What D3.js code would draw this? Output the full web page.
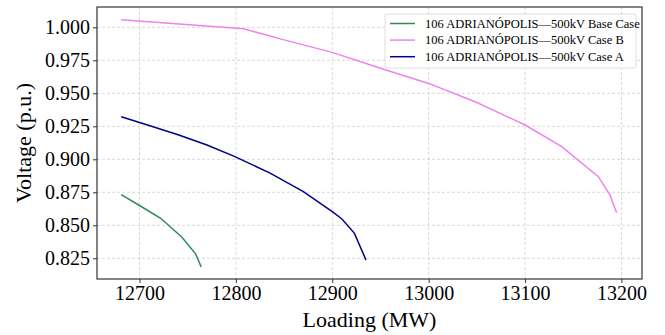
<!DOCTYPE html>
<html>
<head>
<meta charset="utf-8">
<script src="https://cdn.jsdelivr.net/npm/d3@7"></script>
<style>
  body { margin: 0; background: #fff; }
</style>
</head>
<body>
<div id="chart"></div>
<script>
// series: [loading MW, voltage p.u.]
var baseCase = [[12681, 0.8733], [12700, 0.8650], [12722, 0.8553], [12744, 0.8409], [12758, 0.8286], [12764, 0.8184]];
var caseB = [[12681, 1.0058], [12808, 0.9989], [12850, 0.9905], [12900, 0.9810], [12950, 0.9690], [13000, 0.9575],
             [13050, 0.9430], [13100, 0.9260], [13138, 0.9096], [13176, 0.8868], [13188, 0.8730], [13195, 0.8595]];
var caseA = [[12681, 0.9323], [12710, 0.9256], [12740, 0.9186], [12770, 0.9108], [12799, 0.9020], [12835, 0.8897],
             [12870, 0.8755], [12900, 0.8603], [12910, 0.8548], [12923, 0.8439], [12935, 0.8236]];

var seriesNames = ["106 ADRIANÓPOLIS\u2014500kV Base Case", "106 ADRIANÓPOLIS\u2014500kV Case B", "106 ADRIANÓPOLIS\u2014500kV Case A"];
var seriesColors = ["#2e8b57", "#ee82ee", "#00008b"];
var xTicks = [12700, 12800, 12900, 13000, 13100, 13200];
var yTicks = [0.825, 0.850, 0.875, 0.900, 0.925, 0.950, 0.975, 1.000];

var width = 665, height = 335;
var margin = {top: 7, right: 23, bottom: 56, left: 97};
var serif = "'Liberation Serif', 'Times New Roman', 'DejaVu Serif', serif";

var svg = d3.select("#chart").append("svg")
    .attr("width", width)
    .attr("height", height)
    .attr("font-family", serif);

var x = d3.scaleLinear().domain([12655.9, 13221.3]).range([margin.left, width - margin.right]);
var y = d3.scaleLinear().domain([0.8093, 1.0154]).range([height - margin.bottom, margin.top]);

// grid
svg.append("g").selectAll("line").data(xTicks).enter().append("line")
    .attr("x1", function (d) { return x(d); }).attr("x2", function (d) { return x(d); })
    .attr("y1", margin.top).attr("y2", height - margin.bottom)
    .attr("stroke", "#cfcfcf").attr("stroke-width", 0.8).attr("stroke-dasharray", "3,2");
svg.append("g").selectAll("line").data(yTicks).enter().append("line")
    .attr("y1", function (d) { return y(d); }).attr("y2", function (d) { return y(d); })
    .attr("x1", margin.left).attr("x2", width - margin.right)
    .attr("stroke", "#cfcfcf").attr("stroke-width", 0.8).attr("stroke-dasharray", "3,2");

// axes
var xAxis = svg.append("g")
    .attr("transform", "translate(0," + (height - margin.bottom) + ")")
    .call(d3.axisBottom(x).tickValues(xTicks).tickFormat(d3.format("d")).tickSizeOuter(0).tickSize(4).tickPadding(3));
var yAxis = svg.append("g")
    .attr("transform", "translate(" + margin.left + ",0)")
    .call(d3.axisLeft(y).tickValues(yTicks).tickFormat(d3.format(".3f")).tickSizeOuter(0).tickSize(4).tickPadding(3));
[xAxis, yAxis].forEach(function (a) {
    a.attr("font-family", serif).attr("font-size", 20);
    a.select(".domain").remove();
    a.selectAll("text").attr("fill", "#000");
    a.selectAll(".tick line").attr("stroke", "#333");
});

// lines
var line = d3.line().x(function (d) { return x(d[0]); }).y(function (d) { return y(d[1]); });
[baseCase, caseB, caseA].forEach(function (s, i) {
    svg.append("path").datum(s)
        .attr("d", line)
        .attr("fill", "none")
        .attr("stroke", seriesColors[i])
        .attr("stroke-width", 1.5);
});

// frame
svg.append("rect")
    .attr("x", margin.left).attr("y", margin.top)
    .attr("width", width - margin.left - margin.right)
    .attr("height", height - margin.top - margin.bottom)
    .attr("fill", "none").attr("stroke", "#333").attr("stroke-width", 1.2);

// axis labels
svg.append("text")
    .attr("x", (margin.left + width - margin.right) / 2)
    .attr("y", 327)
    .attr("text-anchor", "middle")
    .attr("font-size", 22)
    .text("Loading (MW)");
svg.append("text")
    .attr("transform", "translate(31," + ((margin.top + height - margin.bottom) / 2) + ") rotate(-90)")
    .attr("text-anchor", "middle")
    .attr("font-size", 22)
    .text("Voltage (p.u.)");

// legend
var legend = svg.append("g").attr("transform", "translate(385,14)");
legend.append("rect")
    .attr("width", 251).attr("height", 54).attr("rx", 2.5)
    .attr("fill", "#fff").attr("fill-opacity", 0.85)
    .attr("stroke", "#d6d6d6").attr("stroke-width", 0.8);
seriesNames.forEach(function (name, i) {
    var yy = 9.5 + i * 16.6;
    legend.append("line")
        .attr("x1", 5).attr("x2", 30).attr("y1", yy).attr("y2", yy)
        .attr("stroke", seriesColors[i]).attr("stroke-width", 1.5);
    legend.append("text")
        .attr("x", 40).attr("y", yy + 4.2)
        .attr("font-size", 12.5)
        .text(name);
});
</script>
</body>
</html>
